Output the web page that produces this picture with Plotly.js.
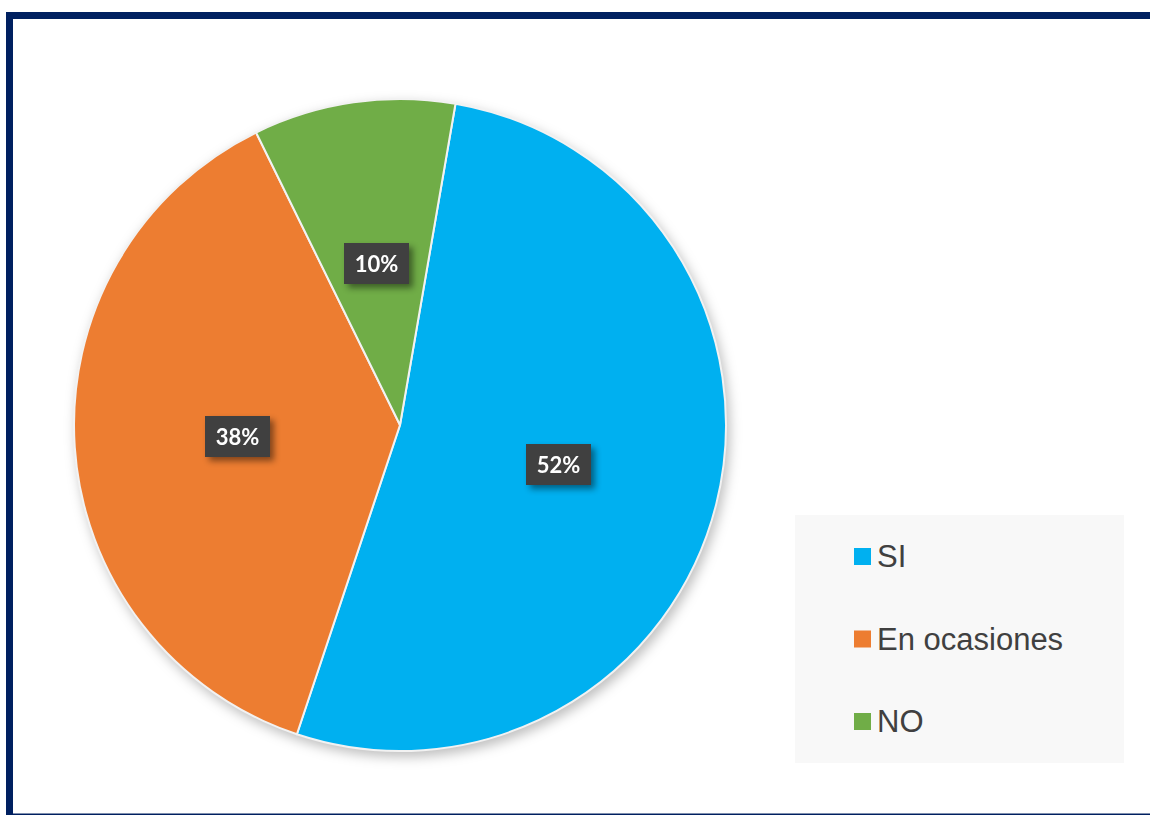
<!DOCTYPE html>
<html><head><meta charset="utf-8">
<script src="https://cdn.plot.ly/plotly-3.0.1.min.js"></script>
<style>
html,body{margin:0;padding:0;background:#fff;overflow:hidden}
#chart{width:1150px;height:815px}
.pielayer .trace{filter:drop-shadow(3px 5px 6px rgba(0,0,0,0.25))}
g.annotation[data-index="0"],g.annotation[data-index="1"],g.annotation[data-index="2"]{filter:drop-shadow(4px 4px 3px rgba(0,0,0,0.45))}
</style></head><body><div id="chart"></div>
<script>
// ---- data ----
const categories = ['SI', 'En ocasiones', 'NO'];
const values = [52.4, 37.6, 10.0];
const colors = ['#00B0F0', '#ED7D31', '#70AD47'];

// ---- geometry / style ----
const W = 1150, H = 815;
const cx = 400, cy = 425, R = 326;
const rotation = 9.8;
const px2x = p => p / W;
const py2y = p => 1 - p / H;

const total = values.reduce((a, b) => a + b, 0);
const pctLabels = values.map(v => Math.round(v / total * 100) + '%');

const trace = {
  type: 'pie',
  labels: categories,
  values: values,
  sort: false,
  direction: 'clockwise',
  rotation: rotation,
  marker: {colors: colors, line: {color: '#f2f2f2', width: 2}},
  textinfo: 'none',
  hoverinfo: 'label+percent',
  showlegend: false,
  domain: {x: [px2x(cx - R), px2x(cx + R)], y: [py2y(cy + R), py2y(cy - R)]}
};

const annotations = [];
const shapes = [];

// percentage labels at mid-angle, half radius
let cum = 0;
values.forEach((v, i) => {
  const ang = (rotation + (cum + v / 2) / total * 360) * Math.PI / 180;
  cum += v;
  const lx = cx + 0.5 * R * Math.sin(ang);
  const ly = cy - 0.5 * R * Math.cos(ang);
  annotations.push({
    xref: 'paper', yref: 'paper', x: px2x(lx), y: py2y(ly),
    xanchor: 'center', yanchor: 'middle', showarrow: false,
    text: '<b>' + pctLabels[i] + '</b>',
    font: {family: 'Lato, "Open Sans", sans-serif', size: 22, color: '#ffffff'},
    bgcolor: '#404040', borderwidth: 0, borderpad: 0, width: 65, height: 41
  });
});

// legend box
shapes.push({type: 'rect', xref: 'paper', yref: 'paper', layer: 'below',
  x0: px2x(795), x1: px2x(1124), y0: py2y(763), y1: py2y(515),
  fillcolor: '#F8F8F8', line: {width: 0}});
categories.forEach((c, i) => {
  const yc = 556.5 + i * 82.5;
  shapes.push({type: 'rect', xref: 'paper', yref: 'paper',
    x0: px2x(854), x1: px2x(871), y0: py2y(yc + 8.5), y1: py2y(yc - 8.5),
    fillcolor: colors[i], line: {width: 0}});
  annotations.push({
    xref: 'paper', yref: 'paper', x: px2x(875), y: py2y(yc),
    xanchor: 'left', yanchor: 'middle', showarrow: false, text: c,
    font: {family: '"Liberation Sans", Arial, sans-serif', size: 31, color: '#404040'}
  });
});

// outer frame
shapes.push({type: 'rect', xref: 'paper', yref: 'paper',
  x0: px2x(9.5), x1: px2x(1165), y0: py2y(817), y1: py2y(15.5),
  fillcolor: 'rgba(0,0,0,0)', line: {color: '#002060', width: 7}});

const layout = {
  width: W, height: H,
  margin: {l: 0, r: 0, t: 0, b: 0},
  paper_bgcolor: '#ffffff',
  showlegend: false,
  annotations: annotations,
  shapes: shapes
};

Plotly.newPlot('chart', [trace], layout, {displayModeBar: false, staticPlot: true});
</script></body></html>
